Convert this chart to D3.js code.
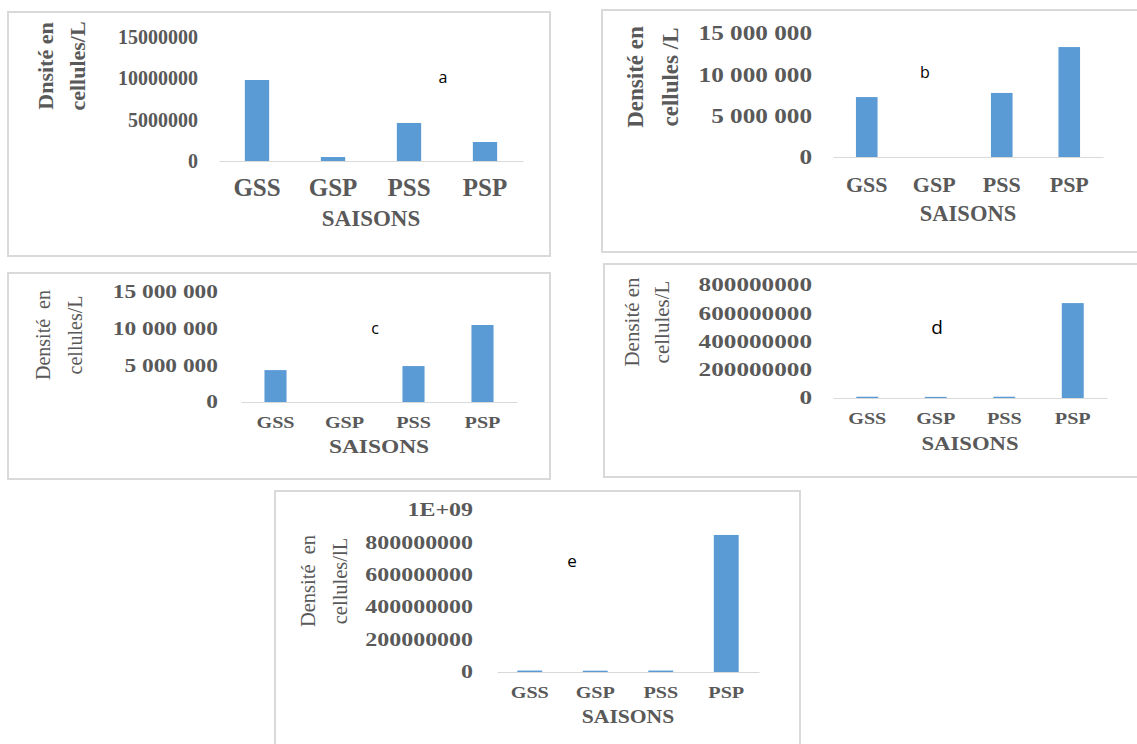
<!DOCTYPE html>
<html>
<head>
<meta charset="utf-8">
<script src="https://cdn.jsdelivr.net/npm/d3@7"></script>
<style>
  body { margin: 0; background: #fff; }
  svg { display: block; }
  text { white-space: pre; }
</style>
</head>
<body>
<div id="chart"></div>
<script>
// Data
const seasons = ["GSS", "GSP", "PSS", "PSP"]

const densityA = [9800000, 480000, 4600000, 2300000]
const densityB = [7250000, 0, 7750000, 13300000]
const densityC = [4350000, 0, 4900000, 10500000]
const densityD = [9000000, 8000000, 9000000, 672000000]
const densityE = [9000000, 8000000, 9000000, 846000000]

const ticksA = [0, 5000000, 10000000, 15000000]
const ticksB = [0, 5000000, 10000000, 15000000]
const ticksC = [0, 5000000, 10000000, 15000000]
const ticksD = [0, 200000000, 400000000, 600000000, 800000000]
const ticksE = [0, 200000000, 400000000, 600000000, 800000000, 1000000000]

const tickLabelsA = ["0", "5000000", "10000000", "15000000"]
const tickLabelsB = ["0", "5 000 000", "10 000 000", "15 000 000"]
const tickLabelsC = ["0", "5 000 000", "10 000 000", "15 000 000"]
const tickLabelsD = ["0", "200000000", "400000000", "600000000", "800000000"]
const tickLabelsE = ["0", "200000000", "400000000", "600000000", "800000000", "1E+09"]

const titleA = ["Dnsité en", "cellules/L"]
const titleB = ["Densité en", "cellules /L"]
const titleC = ["Densité  en", "cellules/L"]
const titleD = ["Densité en", "cellules/L"]
const titleE = ["Densité  en", "cellules/lL"]

const xTitle = "SAISONS"

// Layout (positions and styles only)
const panels = [
  { values: densityA, ticks: ticksA, tickLabels: tickLabelsA, title: titleA, letter: "a",
    frame: [8, 12, 550, 256], xRange: [219, 523], y0: 161, yTop: 37, tickRight: 198, pad: 0.68,
    tick: { size: 20, sx: 1 }, cat: { size: 25, sx: 1, off: 26 }, xt: { size: 23, sx: 1, off: 57 },
    yt: { size: 22, weight: "bold", xs: [46, 78], cy: 66 }, lt: [443, 77, 16] },
  { values: densityB, ticks: ticksB, tickLabels: tickLabelsB, title: titleB, letter: "b",
    frame: [602, 10, 1140, 252], xRange: [833, 1103], y0: 157, yTop: 33, tickRight: 812, pad: 0.68,
    tick: { size: 21, sx: 1.2 }, cat: { size: 22, sx: 1, off: 28 }, xt: { size: 22.5, sx: 1, off: 56 },
    yt: { size: 23, weight: "bold", xs: [635, 670], cy: 77 }, lt: [925, 72, 16] },
  { values: densityC, ticks: ticksC, tickLabels: tickLabelsC, title: titleC, letter: "c",
    frame: [8, 273, 550, 479], xRange: [241, 517], y0: 402, yTop: 292, tickRight: 218, pad: 0.68,
    tick: { size: 18, sx: 1.3 }, cat: { size: 16, sx: 1.26, off: 21 }, xt: { size: 18, sx: 1.3, off: 45 },
    yt: { size: 20, weight: "normal", xs: [43, 75], cy: 335 }, lt: [375, 328, 16] },
  { values: densityD, ticks: ticksD, tickLabels: tickLabelsD, title: titleD, letter: "d",
    frame: [604, 264, 1140, 477], xRange: [833, 1107], y0: 398, yTop: 285, tickRight: 812, pad: 0.68,
    tick: { size: 18, sx: 1.4 }, cat: { size: 16, sx: 1.26, off: 21 }, xt: { size: 18, sx: 1.26, off: 46 },
    yt: { size: 21, weight: "normal", xs: [632, 662], cy: 322 }, lt: [937, 327, 19] },
  { values: densityE, ticks: ticksE, tickLabels: tickLabelsE, title: titleE, letter: "e",
    frame: [275, 491, 800, 760], xRange: [497, 759], y0: 672, yTop: 510, tickRight: 473, pad: 0.62,
    tick: { size: 18, sx: 1.33 }, cat: { size: 16, sx: 1.26, off: 21 }, xt: { size: 18, sx: 1.2, off: 45 },
    yt: { size: 20.5, weight: "normal", xs: [308, 340], cy: 581 }, lt: [572, 561, 17] },
]

const textColor = "#595959"
const barColor = "#5B9BD5"
const lineColor = "#D9D9D9"
const serif = "'Liberation Serif', 'Times New Roman', serif"

// stretch glyphs horizontally, the source figure is squeezed/widened
const stretch = (sel, sx) => {
  if (sx === 1) return
  sel.each(function () {
    const w = this.getComputedTextLength()
    this.setAttribute("textLength", w * sx)
    this.setAttribute("lengthAdjust", "spacingAndGlyphs")
  })
}

const svg = d3.select("#chart")
  .append("svg")
  .attr("width", 1137)
  .attr("height", 744)

panels.forEach(p => {
  const g = svg.append("g")

  // frame
  g.append("rect")
    .attr("x", p.frame[0])
    .attr("y", p.frame[1])
    .attr("width", p.frame[2] - p.frame[0])
    .attr("height", p.frame[3] - p.frame[1])
    .attr("fill", "none")
    .attr("stroke", lineColor)
    .attr("stroke-width", 2)

  // scales
  const xScale = d3.scaleBand()
    .domain(seasons)
    .range(p.xRange)
    .paddingInner(p.pad)
    .paddingOuter(p.pad / 2)

  const yScale = d3.scaleLinear()
    .domain([0, d3.max(p.ticks)])
    .range([p.y0, p.yTop])

  // y axis (labels only)
  const yAxis = g.append("g")
    .attr("transform", `translate(${p.xRange[0]},0)`)
    .call(d3.axisLeft(yScale)
      .tickValues(p.ticks)
      .tickSize(0)
      .tickPadding(p.xRange[0] - p.tickRight)
      .tickFormat((d, i) => p.tickLabels[i]))
  yAxis.select(".domain").remove()
  const yText = yAxis.selectAll("text")
    .attr("fill", textColor)
    .style("font-family", serif)
    .style("font-weight", "bold")
    .style("font-size", p.tick.size + "px")
  stretch(yText, p.tick.sx)

  // bars
  g.selectAll(".bar")
    .data(p.values)
    .join("rect")
    .attr("class", "bar")
    .attr("x", (d, i) => xScale(seasons[i]))
    .attr("width", xScale.bandwidth())
    .attr("y", d => yScale(d))
    .attr("height", d => p.y0 - yScale(d))
    .attr("fill", barColor)

  // x axis
  const xAxis = g.append("g")
    .attr("transform", `translate(0,${p.y0})`)
    .call(d3.axisBottom(xScale).tickSize(0).tickSizeOuter(0))
  xAxis.select(".domain")
    .attr("stroke", lineColor)
    .attr("stroke-width", 1.2)
  const xText = xAxis.selectAll("text")
    .attr("y", p.cat.off)
    .attr("dy", "0.34em")
    .attr("fill", textColor)
    .style("font-family", serif)
    .style("font-weight", "bold")
    .style("font-size", p.cat.size + "px")
  stretch(xText, p.cat.sx)

  // x title
  const xt = g.append("text")
    .attr("x", (p.xRange[0] + p.xRange[1]) / 2)
    .attr("y", p.y0 + p.xt.off)
    .attr("dy", "0.34em")
    .attr("text-anchor", "middle")
    .attr("fill", textColor)
    .style("font-family", serif)
    .style("font-weight", "bold")
    .style("font-size", p.xt.size + "px")
    .text(xTitle)
  stretch(xt, p.xt.sx)

  // y title, two lines rotated
  p.title.forEach((line, i) => {
    g.append("text")
      .attr("transform", `translate(${p.yt.xs[i]},${p.yt.cy}) rotate(-90)`)
      .attr("dy", "0.34em")
      .attr("text-anchor", "middle")
      .attr("fill", textColor)
      .style("font-family", serif)
      .style("font-weight", p.yt.weight)
      .style("font-size", p.yt.size + "px")
      .text(line)
  })

  // panel letter
  g.append("text")
    .attr("x", p.lt[0])
    .attr("y", p.lt[1])
    .attr("dy", "0.35em")
    .attr("text-anchor", "middle")
    .attr("fill", "#000")
    .style("font-family", "'Open Sans', sans-serif")
    .style("font-size", p.lt[2] + "px")
    .text(p.letter)
})
</script>
</body>
</html>
